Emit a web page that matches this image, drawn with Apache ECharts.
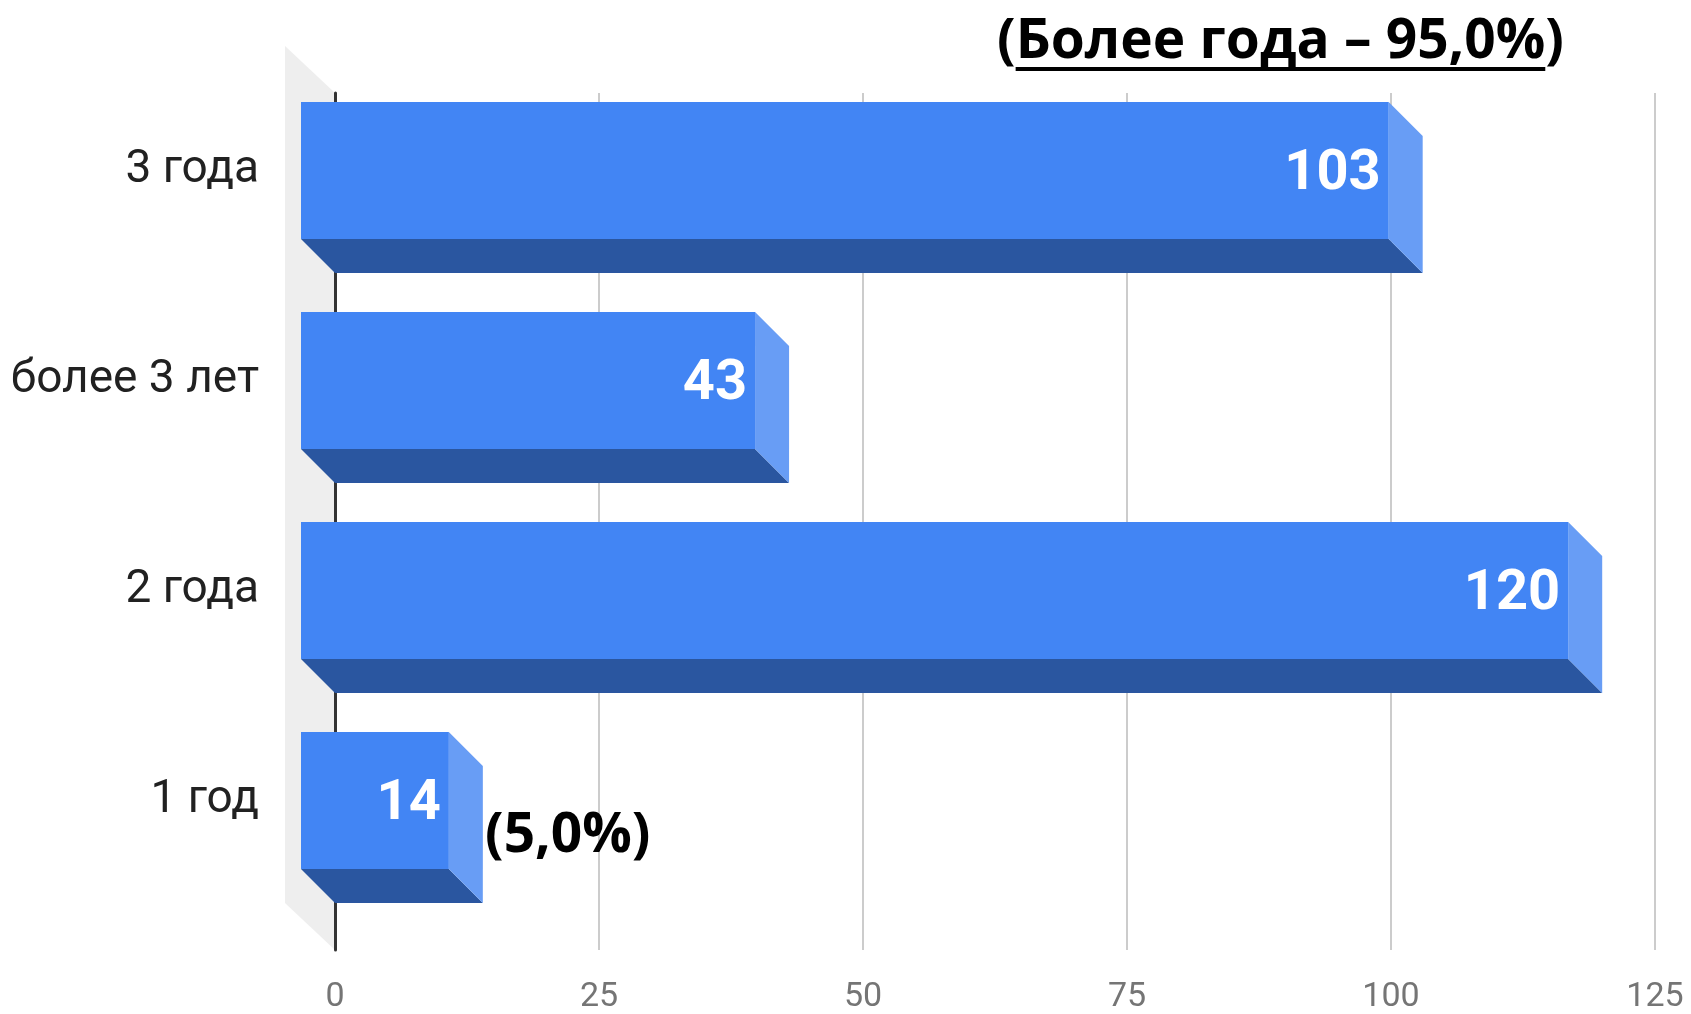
<!DOCTYPE html>
<html>
<head>
<meta charset="utf-8">
<script src="https://cdn.jsdelivr.net/npm/echarts@6/dist/echarts.min.js"></script>
<style>
  html, body { margin: 0; padding: 0; background: #fff; }
  #chart { width: 1691px; height: 1014px; }
</style>
</head>
<body>
<div id="chart"></div>
<script>
const categories = ["3 года", "более 3 лет", "2 года", "1 год"];
const values = [103, 43, 120, 14];
const xTicks = [0, 25, 50, 75, 100, 125];
const noteTop = "Более года – 95,0%";
const noteLow = "(5,0%)";

const front = "#4285f4";
const bottom = "#2a56a0";
const side = "#689df5";
const depth = 34;
const noteFont = 'bold 55px "Open Sans"';

// measure the underlined part of the top note
const ctx = document.createElement("canvas").getContext("2d");
ctx.font = noteFont;
const parenW = ctx.measureText("(").width;
const noteW = ctx.measureText(noteTop).width;
const noteX = 997;

// the category grid is the front plane; the back plane sits depth px right and down
function renderBar(params, api) {
  const v = api.value(0);
  const i = api.value(1);
  const start = api.coord([0, i]);
  const end = api.coord([v, i]);
  const h = api.size([0, 1])[1] * 0.652;
  const d = depth;
  const x0 = start[0] - d;
  const x1 = end[0] - d;
  const top = start[1] - h / 2;
  const bot = start[1] + h / 2;
  return {
    type: "group",
    children: [
      {
        type: "polygon",
        shape: { points: [[x0, bot], [x1, bot], [x1 + d, bot + d], [x0 + d, bot + d]] },
        style: { fill: bottom },
      },
      {
        type: "polygon",
        shape: { points: [[x1, top], [x1 + d, top + d], [x1 + d, bot + d], [x1, bot]] },
        style: { fill: side },
      },
      {
        type: "rect",
        shape: { x: x0, y: top, width: x1 - x0, height: h },
        style: { fill: front },
      },
      {
        type: "text",
        x: x1 - 8,
        y: start[1] + 4,
        style: {
          text: String(v),
          fill: "#fff",
          fontSize: 56,
          fontWeight: "bold",
          fontFamily: "Roboto",
          align: "right",
          verticalAlign: "middle",
        },
      },
    ],
  };
}

function renderWall(params) {
  const cs = params.coordSys;
  return {
    type: "polygon",
    shape: {
      points: [
        [cs.x - 50, cs.y - 47],
        [cs.x, cs.y],
        [cs.x, cs.y + cs.height],
        [cs.x - 50, cs.y + cs.height - 47],
      ],
    },
    style: { fill: "#eeeeee" },
  };
}

const cfg = {
  animation: false,
  backgroundColor: "#fff",
  grid: [
    { left: 335, right: 36, top: 65.5, bottom: 108.5 },
    { left: 335, right: 36, top: 93, bottom: 57 },
  ],
  xAxis: [
    {
      gridIndex: 0, type: "value", min: 0, max: 125, interval: 25,
      axisLine: { show: false }, axisTick: { show: false },
      axisLabel: { show: false }, splitLine: { show: false },
    },
    {
      gridIndex: 1, type: "value", min: xTicks[0], max: xTicks[xTicks.length - 1], interval: 25,
      axisLine: { show: false }, axisTick: { show: false },
      axisLabel: { color: "#757575", fontSize: 34, fontFamily: "Roboto", margin: 30 },
      splitLine: { lineStyle: { color: "#cccccc", width: 2 } },
    },
  ],
  yAxis: [
    {
      gridIndex: 0, type: "category", inverse: true, data: categories,
      axisLine: { show: false }, axisTick: { show: false },
      axisLabel: { color: "#212121", fontSize: 46, fontFamily: "Roboto", margin: 76 },
    },
    {
      gridIndex: 1, type: "value", min: 0, max: 1, z: 2,
      axisLine: { show: true, lineStyle: { color: "#333333", width: 3 } },
      axisTick: { show: false }, axisLabel: { show: false }, splitLine: { show: false },
    },
  ],
  series: [
    {
      type: "custom",
      xAxisIndex: 1,
      yAxisIndex: 1,
      z: 1,
      silent: true,
      renderItem: renderWall,
      data: [[0, 0]],
    },
    {
      type: "custom",
      xAxisIndex: 0,
      yAxisIndex: 0,
      z: 3,
      renderItem: renderBar,
      encode: { x: 0, y: 1 },
      data: values.map((v, i) => [v, i]),
    },
  ],
  graphic: [
    {
      type: "text",
      x: noteX,
      y: 42,
      z: 10,
      style: { text: "(" + noteTop + ")", font: noteFont, fill: "#000", verticalAlign: "middle" },
    },
    {
      type: "line",
      z: 10,
      shape: { x1: noteX + parenW, y1: 69, x2: noteX + parenW + noteW, y2: 69 },
      style: { stroke: "#000", lineWidth: 4 },
    },
    {
      type: "text",
      x: 485,
      y: 836,
      z: 10,
      style: { text: noteLow, font: noteFont, fill: "#000", verticalAlign: "middle" },
    },
  ],
};

const chart = echarts.init(document.getElementById("chart"));
chart.setOption(cfg);
</script>
</body>
</html>
